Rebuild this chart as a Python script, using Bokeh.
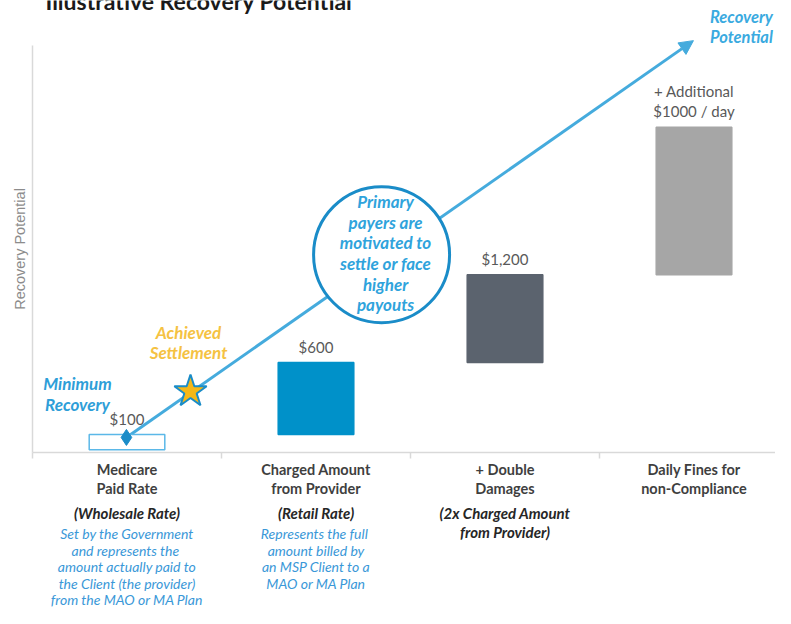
from bokeh.plotting import figure
from bokeh.models import Range1d, FixedTicker, Arrow, NormalHead
from bokeh.core.properties import value
from bokeh.embed import file_html
from bokeh.resources import INLINE

# ---------------- data ----------------
title = "Illustrative Recovery Potential"
bar_x = [0.5, 1.5, 2.5, 3.5]                 # category centres (category index units)
bar_bottom = [0.7, 4.4, 22.1, 43.7]          # recovery-potential units (axis top = 100)
bar_top = [4.4, 22.1, 43.7, 79.9]
bar_labels = [["$100"], ["$600"], ["$1,200"], ["+ Additional", "$1000 / day"]]
bar_fill = ["#FFFFFF", "#0091C9", "#5B636E", "#A6A6A6"]
bar_line = ["#5BB8E8", "#0091C9", "#5B636E", "#A6A6A6"]

cat_titles = [["Medicare", "Paid Rate"], ["Charged Amount", "from Provider"],
              ["+ Double", "Damages"], ["Daily Fines for", "non-Compliance"]]
cat_subtitles = [["(Wholesale Rate)"], ["(Retail Rate)"],
                 ["(2x Charged Amount", "from Provider)"], []]
cat_notes = [["Set by the Government", "and represents  the", "amount actually paid to",
              "the Client (the provider)", "from the MAO or MA Plan"],
             ["Represents  the full", "amount billed by", "an MSP Client to a", "MAO or MA Plan"],
             [], []]

min_point = (0.497, 3.7)        # minimum recovery ($100)
settle_point = (0.836, 15.0)    # achieved settlement
arrow_end = (3.497, 101.2)      # recovery potential
bubble_center = (1.847, 48.6)
bubble_text = ["Primary", "payers are", "motivated to", "settle or face", "higher", "payouts"]

# ---------------- figure ----------------
FONT = "Lato"
p = figure(width=775, height=608, x_range=Range1d(-0.1693, 3.9312), y_range=Range1d(-38.33, 111.06),
           output_backend="svg", toolbar_location=None, min_border=0,
           outline_line_color=None, background_fill_color="white", border_fill_color="white")
p.grid.visible = False

xa = p.xaxis[0]
xa.fixed_location = 0
xa.bounds = (0, 3.93)
xa.ticker = FixedTicker(ticks=[0, 1, 2, 3])
xa.major_label_overrides = {0: "", 1: "", 2: "", 3: ""}
xa.major_tick_out = 6
xa.major_tick_in = 0
xa.minor_tick_line_color = None
xa.axis_line_color = "#D9D9D9"
xa.major_tick_line_color = "#D9D9D9"
xa.axis_line_width = 1.5
xa.major_tick_line_width = 1.5

ya = p.yaxis[0]
ya.fixed_location = 0
ya.bounds = (0, 100)
ya.ticker = FixedTicker(ticks=[])
ya.major_tick_line_color = None
ya.minor_tick_line_color = None
ya.axis_line_color = "#D9D9D9"
ya.axis_line_width = 1.5
ya.axis_label = "Recovery Potential"
ya.axis_label_text_font = "Liberation Sans"
ya.axis_label_text_font_size = "14.5px"
ya.axis_label_text_font_style = "normal"
ya.axis_label_text_color = "#8C8C8C"
ya.axis_label_standoff = 5

# arrow (behind everything)
arrow_color = "#45ABDD"
arr = Arrow(x_start=min_point[0], y_start=min_point[1], x_end=arrow_end[0], y_end=arrow_end[1],
            line_color=arrow_color, line_width=3,
            end=NormalHead(size=14, fill_color=arrow_color, line_color=arrow_color),
            level="underlay")
p.add_layout(arr)

# bars
p.vbar(x=bar_x, width=0.40, bottom=bar_bottom, top=bar_top,
       fill_color=bar_fill, line_color=bar_line, line_width=1.5)

# bar value labels
lx, ly, lt, lo = [], [], [], []
for x, t, labs in zip(bar_x, bar_top, bar_labels):
    n = len(labs)
    for i, s in enumerate(labs):
        lx.append(x); ly.append(t); lt.append(s); lo.append(-16 - 20 * (n - 1 - i))
p.text(x=lx, y=ly, text=lt, y_offset=lo, text_align="center", text_baseline="middle",
       text_font=value(FONT), text_font_size=value("15px"), text_color="#595959")

# bubble
p.scatter(x=[bubble_center[0]], y=[bubble_center[1]], marker="circle", size=136,
          fill_color="white", line_color="#1A8CC8", line_width=3)
p.text(x=[bubble_center[0]] * len(bubble_text), y=[bubble_center[1]] * len(bubble_text),
       text=bubble_text, x_offset=4, y_offset=[-53 + 20.6 * i for i in range(len(bubble_text))],
       text_align="center", text_baseline="middle", text_font=value(FONT),
       text_font_size=value("17px"), text_font_style="bold italic", text_color="#2FA3DC")

# markers
p.scatter(x=[min_point[0]], y=[min_point[1]], marker="diamond", size=16, color="#1A8CC8")
p.scatter(x=[settle_point[0]], y=[settle_point[1]], marker="star", size=34,
          fill_color="#F6B817", line_color="#1A8CC8", line_width=2)

# annotations near points
def lines(anchor, txts, dx, dys, color, size="17px"):
    p.text(x=[anchor[0]] * len(txts), y=[anchor[1]] * len(txts), text=txts,
           x_offset=dx, y_offset=dys, text_align="center", text_baseline="middle",
           text_font=value(FONT), text_font_size=value(size), text_font_style="bold italic",
           text_color=color)

lines(min_point, ["Minimum", "Recovery"], -49, [-54, -33], "#2E9ED8")
lines(settle_point, ["Achieved", "Settlement"], -2, [-59, -39], "#F5C242")
lines(arrow_end, ["Recovery", "Potential"], 48, [-24, -4], "#3AAAE0", "16.5px")

# category labels below axis
rows = {"x": [], "t": [], "o": []}
sub = {"x": [], "t": [], "o": []}
note = {"x": [], "t": [], "o": []}
for x, ts, ss, ns in zip(bar_x, cat_titles, cat_subtitles, cat_notes):
    for i, s in enumerate(ts):
        rows["x"].append(x); rows["t"].append(s); rows["o"].append(17 + 19 * i)
    for i, s in enumerate(ss):
        sub["x"].append(x); sub["t"].append(s); sub["o"].append(60 + 19 * i)
    for i, s in enumerate(ns):
        note["x"].append(x); note["t"].append(s); note["o"].append(81 + 16.5 * i)

for d, style, color, size in [(rows, "bold", "#3F3F3F", "14.5px"),
                              (sub, "bold italic", "#262626", "15px"),
                              (note, "italic", "#3A98D8", "14px")]:
    p.text(x=d["x"], y=[0] * len(d["x"]), text=d["t"], y_offset=d["o"],
           text_align="center", text_baseline="middle", text_font=value(FONT),
           text_font_size=value(size), text_font_style=style, text_color=color)

# title (cropped at the top, as in the reference)
p.text(x=[0], y=[p.y_range.end], text=[title], x_offset=13, text_align="left",
       text_baseline="middle", text_font=value(FONT), text_font_size=value("23px"),
       text_font_style="bold", text_color="#1A1A1A")

open("out.html", "w").write(file_html(p, INLINE))
